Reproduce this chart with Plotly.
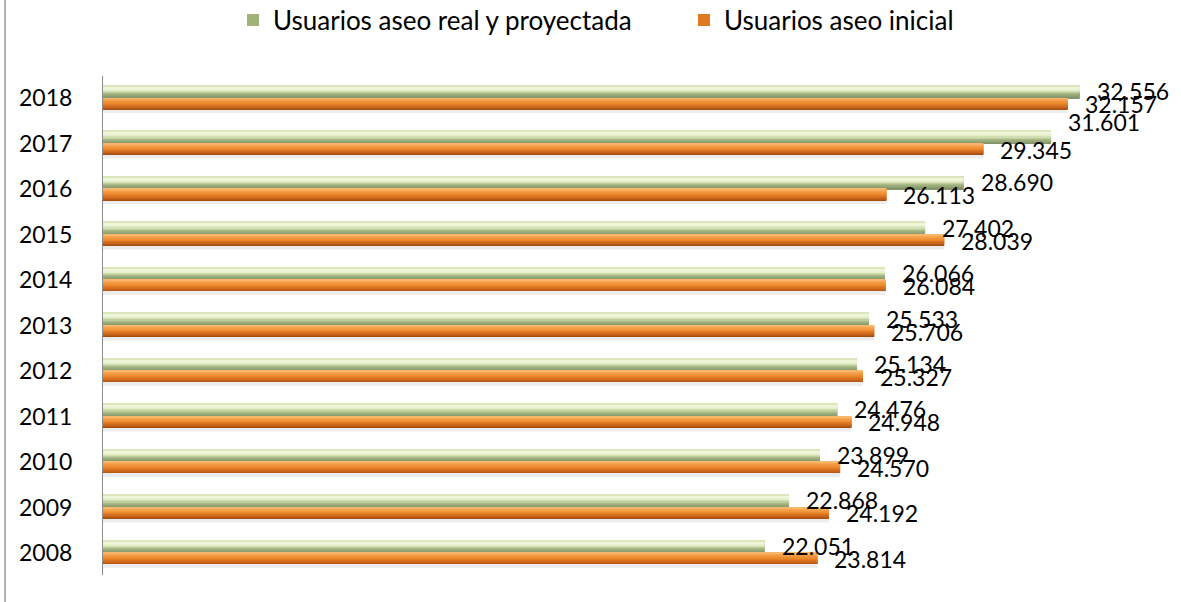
import plotly.graph_objects as go

# ---- data ----
years = [2008, 2009, 2010, 2011, 2012, 2013, 2014, 2015, 2016, 2017, 2018]
real_proyectada = [22051, 22868, 23899, 24476, 25134, 25533, 26066, 27402, 28690, 31601, 32556]
inicial = [23814, 24192, 24570, 24948, 25327, 25706, 26084, 28039, 26113, 29345, 32157]
series_names = ["Usuarios aseo real y proyectada", "Usuarios aseo inicial"]

# ---- layout constants ----
W, H = 1181, 602
M_L, M_R, M_T, M_B = 103, 28, 76, 27
X_MAX = 35000
Y_RANGE = [-0.484, 10.484]
PLOT_W = W - M_L - M_R
PLOT_H = H - M_T - M_B
PX = PLOT_H / (Y_RANGE[1] - Y_RANGE[0])  # px per category unit

FONT = "Lato"
FS = 23
LEG_FS = 26

GREEN_H = 13 / PX
ORANGE_H = 11 / PX
SHADOW_H = 4 / PX
N_STRIPES = 12

# colour stops from bottom (0) to top (1) of each cylinder-like bar
green_stops = [(0.0, "#7f8f68"), (0.35, "#a3b580"), (0.6, "#e1ecc3"),
               (0.85, "#f4f9e2"), (1.0, "#d2dfae")]
orange_stops = [(0.0, "#9a4a0e"), (0.2, "#c7621a"), (0.55, "#ec872a"),
                (0.85, "#f6a24c"), (1.0, "#f9bd77")]


def hex2rgb(h):
    h = h.lstrip("#")
    return tuple(int(h[i:i + 2], 16) for i in (0, 2, 4))


def colour_at(stops, t):
    for (t0, c0), (t1, c1) in zip(stops[:-1], stops[1:]):
        if t0 <= t <= t1:
            f = (t - t0) / (t1 - t0) if t1 > t0 else 0
            a, b = hex2rgb(c0), hex2rgb(c1)
            return "rgb(%d,%d,%d)" % tuple(round(a[k] + (b[k] - a[k]) * f) for k in range(3))
    return stops[-1][1]


pos = list(range(len(years)))

fig = go.Figure()

# soft shadow under the bars
fig.add_trace(go.Bar(
    y=pos, x=inicial, orientation="h", base=0,
    offset=-ORANGE_H - SHADOW_H, width=SHADOW_H,
    marker=dict(color="rgba(0,0,0,0.07)", line=dict(width=0)),
    showlegend=False, hoverinfo="skip"))


def add_series(values, name, base_off, height, stops, legend_color):
    # legend entry trace (hidden beneath the stripes)
    fig.add_trace(go.Bar(
        y=pos, x=values, orientation="h", base=0,
        offset=base_off, width=height,
        marker=dict(color=legend_color, line=dict(width=0)),
        name=name, legendgroup=name, showlegend=True, hoverinfo="skip"))
    for k in range(N_STRIPES):
        lo, hi = k / N_STRIPES, (k + 1) / N_STRIPES
        fig.add_trace(go.Bar(
            y=pos, x=values, orientation="h", base=0,
            offset=base_off + lo * height, width=(hi - lo) * height * 1.02,
            marker=dict(color=colour_at(stops, (lo + hi) / 2), line=dict(width=0)),
            name=name, legendgroup=name, showlegend=False, hoverinfo="skip"))


add_series(real_proyectada, series_names[0], 0.0, GREEN_H, green_stops, "#9fb378")
add_series(inicial, series_names[1], -ORANGE_H, ORANGE_H, orange_stops, "#e2781f")


def fmt(v):
    return f"{v:,}".replace(",", ".")


nudge = {(0, 2017): 15}
annotations = []
for s, (vals, ysh) in enumerate([(real_proyectada, 7), (inicial, -6)]):
    for i, (yr, v) in enumerate(zip(years, vals)):
        annotations.append(dict(
            x=v, y=i, xref="x", yref="y", text=fmt(v), showarrow=False,
            xanchor="left", yanchor="middle", xshift=15,
            yshift=ysh + nudge.get((s, yr), 0),
            font=dict(family=FONT, size=FS, color="#000000")))

fig.update_layout(
    width=W, height=H,
    margin=dict(l=M_L, r=M_R, t=M_T, b=M_B, pad=0, autoexpand=False),
    paper_bgcolor="white", plot_bgcolor="white",
    barmode="overlay",
    font=dict(family=FONT, size=FS, color="#000000"),
    showlegend=True,
    legend=dict(orientation="h", x=(233 - M_L) / PLOT_W, xanchor="left",
                y=1 + (M_T - 20) / PLOT_H, yanchor="middle",
                font=dict(family=FONT, size=LEG_FS, color="#000000"),
                entrywidth=406, entrywidthmode="pixels",
                bgcolor="rgba(0,0,0,0)", traceorder="normal"),
    xaxis=dict(range=[0, X_MAX], showgrid=False, zeroline=False,
               showticklabels=False, showline=False, fixedrange=True),
    yaxis=dict(range=Y_RANGE, tickvals=pos, ticktext=[str(y) for y in years],
               showgrid=False, zeroline=False, showline=True,
               linecolor="#8c8c8c", linewidth=1, ticks="",
               ticklabelstandoff=25, fixedrange=True, automargin=False,
               tickfont=dict(family=FONT, size=FS, color="#000000")),
    annotations=annotations,
    shapes=[dict(type="line", xref="paper", yref="paper",
                 x0=(5 - M_L) / PLOT_W, x1=(5 - M_L) / PLOT_W,
                 y0=-M_B / PLOT_H, y1=1 + M_T / PLOT_H,
                 line=dict(color="#b4b4b4", width=2))],
)

fig.write_html("out.html", config={"displayModeBar": False},
               post_script="document.body.style.margin='0';")
